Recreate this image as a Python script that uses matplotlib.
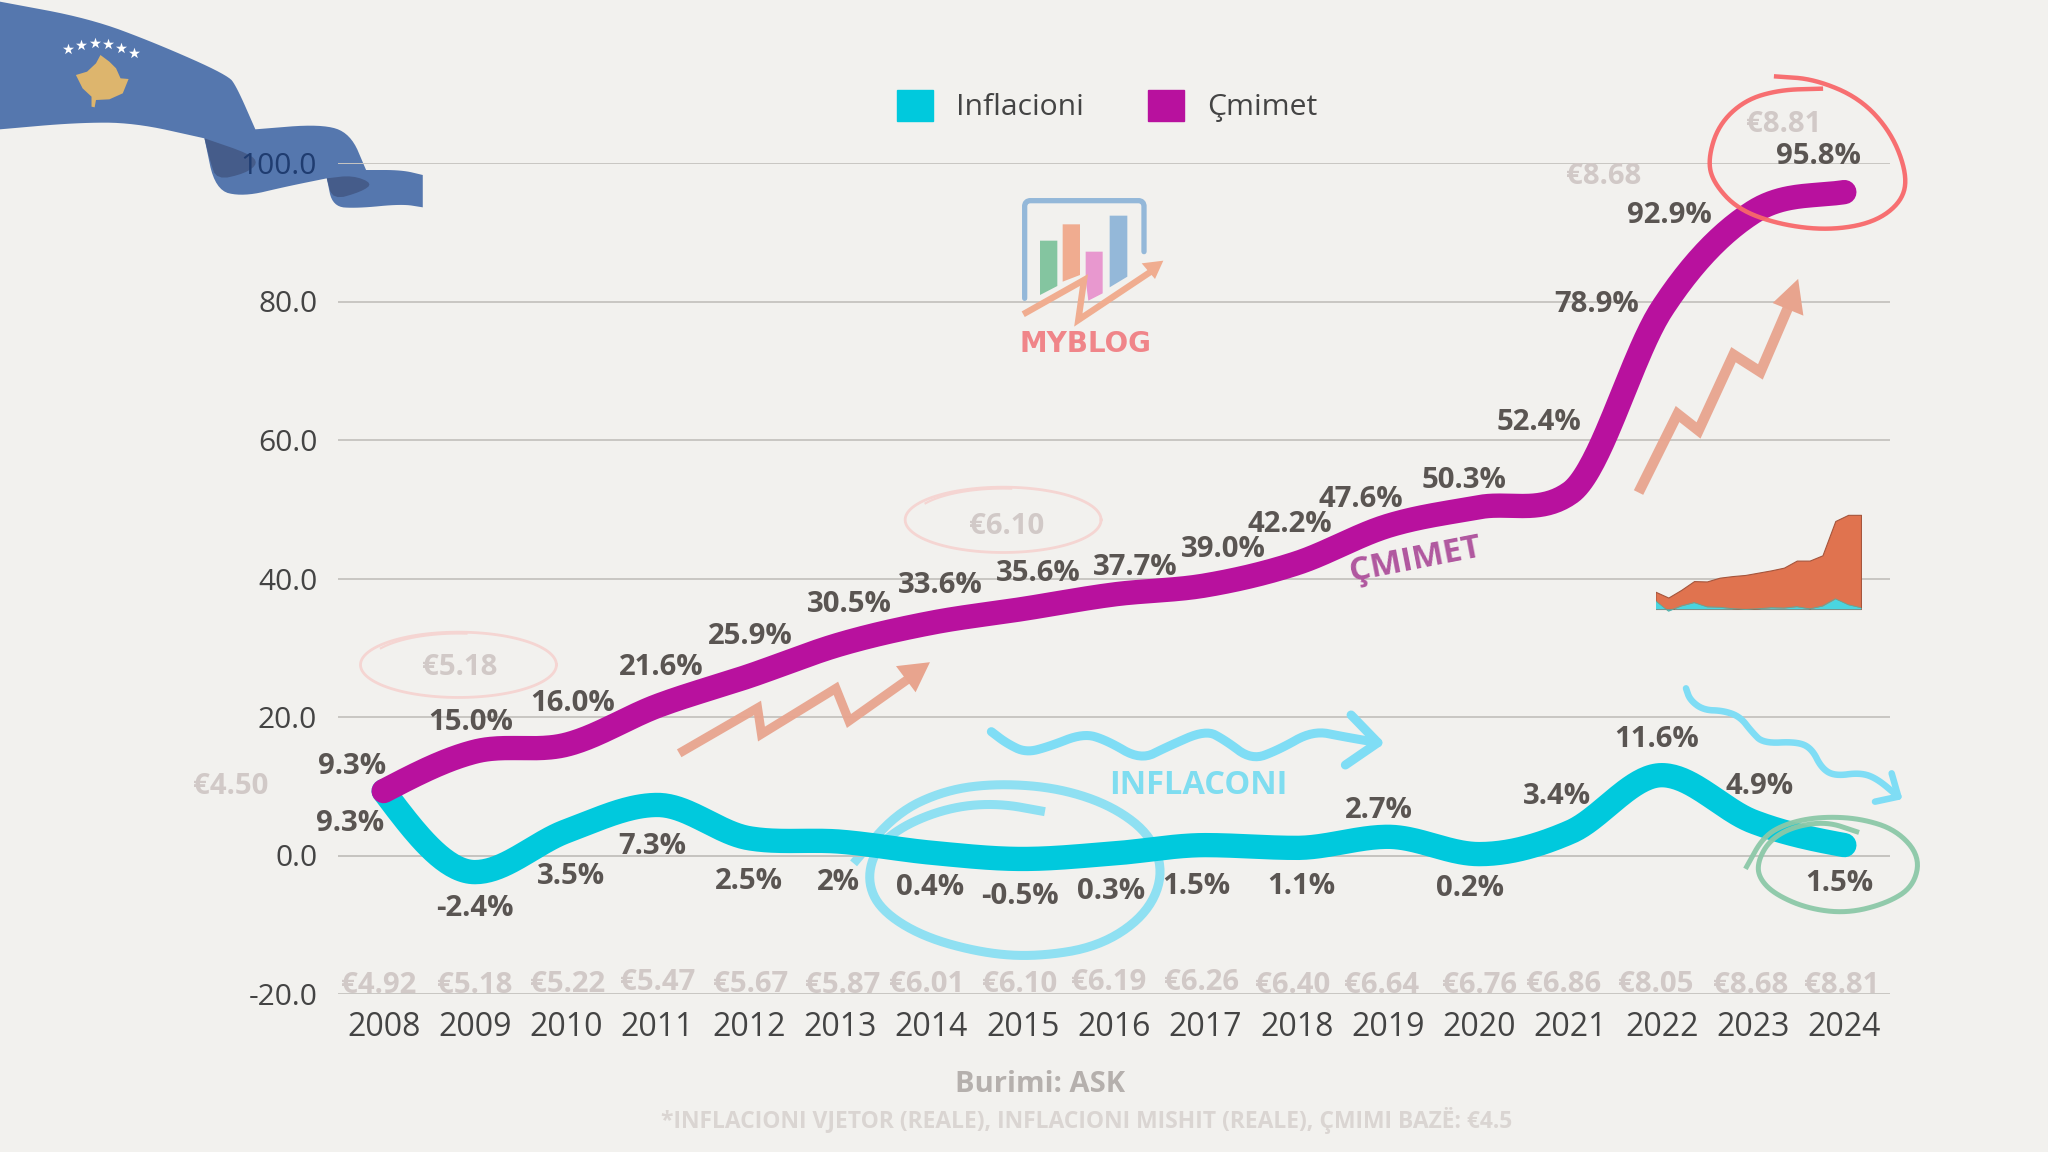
import numpy as np
import matplotlib
matplotlib.use("Agg")
import matplotlib.pyplot as plt
from matplotlib.patches import Patch, Polygon

# ---------- data ----------
years = [2008, 2009, 2010, 2011, 2012, 2013, 2014, 2015, 2016, 2017, 2018, 2019, 2020, 2021, 2022, 2023, 2024]
inflacioni = [9.3, -2.4, 3.5, 7.3, 2.5, 2.0, 0.4, -0.5, 0.3, 1.5, 1.1, 2.7, 0.2, 3.4, 11.6, 4.9, 1.5]
cmimet = [9.3, 15.0, 16.0, 21.6, 25.9, 30.5, 33.6, 35.6, 37.7, 39.0, 42.2, 47.6, 50.3, 52.4, 78.9, 92.9, 95.8]
inflacioni_labels = ["9.3%", "-2.4%", "3.5%", "7.3%", "2.5%", "2%", "0.4%", "-0.5%", "0.3%", "1.5%", "1.1%", "2.7%", "0.2%", "3.4%", "11.6%", "4.9%", "1.5%"]
cmimet_labels = ["9.3%", "15.0%", "16.0%", "21.6%", "25.9%", "30.5%", "33.6%", "35.6%", "37.7%", "39.0%", "42.2%", "47.6%", "50.3%", "52.4%", "78.9%", "92.9%", "95.8%"]
prices = ["€4.92", "€5.18", "€5.22", "€5.47", "€5.67", "€5.87", "€6.01", "€6.10", "€6.19", "€6.26", "€6.40", "€6.64", "€6.76", "€6.86", "€8.05", "€8.68", "€8.81"]
mini_orange = [19.6, 13, 21.7, 31.7, 31.3, 35.6, 37.4, 38.7, 41.3, 43.9, 47, 55, 55, 61, 100, 107, 107]
y_ticks = [-20, 0, 20, 40, 60, 80, 100]

# ---------- style ----------
BG = "#F2F1EE"
CYAN = "#00C9DD"
MAGENTA = "#B8119E"
DARK = "#5A5552"
PALE = "#D1C9C7"
TICK = "#444444"
FONT = "Open Sans"
S = 2048 / 1568  # offsets below were measured on a 1568-wide view
YSHIFT = -2.5

cm_off = [(-24, 21), (-3, 25), (5, 34), (3, 32), (1.5, 33), (7, 33), (7, 31), (12, 30), (16, 23), (14, 30),
          (-5, 32), (-21, 23), (-12, 23), (-24, 56), (-50, 6), (-64, 0), (-20, 30)]
inf_off = [(-26, -22), (0, -25), (4, -32), (-4, -29), (0, -31), (-1, -29), (-1, -24), (-2, -26), (-2, -27), (-7, -29),
           (4, -27), (-7, 23), (-7, -24), (-10, 30), (-4, 30), (5, 29), (-4, -27)]
price_off = [(-4, 9), (0, 9), (1, 10), (0, 11), (1, 10), (2, 9), (-4, 10), (-2, 10), (-4, 11), (-3, 11),
             (-3, 9), (-5, 9), (0, 9), (-5, 10), (-5, 10), (-2, 9), (-2, 9)]


def smooth_line(x, y, limit=4.5, n=40):
    x, y = np.asarray(x, float), np.asarray(y, float)
    h = np.diff(x)
    s = np.diff(y) / h
    t = np.zeros_like(y)
    for i in range(1, len(y) - 1):
        if s[i - 1] * s[i] > 0:
            cr = (y[i + 1] - y[i - 1]) / (x[i + 1] - x[i - 1])
            t[i] = np.sign(cr) * min(abs(cr), limit * min(abs(s[i - 1]), abs(s[i])))
    t[0] = (3 * s[0] - t[1]) / 2
    t[-1] = s[-1] * 0.7
    xs, ys = [], []
    for i in range(len(h)):
        u = np.linspace(0, 1, n, endpoint=False)
        xs.append(x[i] + u * h[i])
        ys.append((2 * u**3 - 3 * u**2 + 1) * y[i] + (u**3 - 2 * u**2 + u) * h[i] * t[i]
                  + (-2 * u**3 + 3 * u**2) * y[i + 1] + (u**3 - u**2) * h[i] * t[i + 1])
    return np.r_[np.concatenate(xs), x[-1]], np.r_[np.concatenate(ys), y[-1]]


def chaikin(pts, k=3):
    p = np.asarray(pts, float)
    for _ in range(k):
        a, b = p[:-1], p[1:]
        m = np.column_stack([0.75 * a + 0.25 * b, 0.25 * a + 0.75 * b]).reshape(-1, 2)
        p = np.vstack([p[0], m, p[-1]])
    return p


fig = plt.figure(figsize=(20.48, 11.52), dpi=100, facecolor=BG)


def overlay(z):
    o = fig.add_axes([0, 0, 1, 1], zorder=z)
    o.set_xlim(0, 2048)
    o.set_ylim(1152, 0)
    o.axis("off")
    o.patch.set_alpha(0)
    return o


under = overlay(0)
top = overlay(5)

# ---------- main chart ----------
ax = fig.add_axes([338 / 2048, (1152 - 994) / 1152, 1552 / 2048, 831 / 1152], zorder=2)
ax.patch.set_alpha(0)
ax.set_xlim(-0.5, 16.5)
ax.set_ylim(-20, 100)
ax.set_yticks(y_ticks)
ax.set_yticklabels([f"{v:.1f}" for v in y_ticks], family=FONT, fontsize=21.5, color=TICK)
ax.set_xticks(range(len(years)))
ax.set_xticklabels(years, family=FONT, fontsize=23, color=TICK)
ax.tick_params(length=0)
ax.tick_params(axis="y", pad=15)
ax.tick_params(axis="x", pad=12.5)
ax.get_yticklabels()[-1].set_color("#1F3C70")
for sp in ax.spines.values():
    sp.set_visible(False)
ax.grid(axis="y", color="#C8C6C2", lw=1.4, zorder=0)
ax.axhline(0, color="#8F8D8A", lw=1.3, zorder=1)
idx = np.arange(len(years))
ax.plot(*smooth_line(idx, inflacioni), color=CYAN, lw=17.5, solid_capstyle="round", zorder=3, label="Inflacioni")
ax.plot(*smooth_line(idx, cmimet), color=MAGENTA, lw=17.5, solid_capstyle="round", zorder=4, label="Çmimet")


def lab(i, v, txt, off, color, **kw):
    ax.annotate(txt, (i, v), xytext=(off[0] * S, (off[1] + YSHIFT) * S), textcoords="offset pixels", ha="center", va="center",
                family=FONT, fontweight="bold", color=color, annotation_clip=False, zorder=6, **kw)


for i in idx:
    lab(i, cmimet[i], cmimet_labels[i], cm_off[i], DARK, fontsize=21.2)
    lab(i, inflacioni[i], inflacioni_labels[i], inf_off[i], DARK, fontsize=21.2)
    lab(i, -20, prices[i], price_off[i], PALE, fontsize=21.2)

ax.legend(handles=[Patch(color=CYAN, label="Inflacioni"), Patch(color=MAGENTA, label="Çmimet")],
          loc="center", bbox_to_anchor=(1107 / 2048, 1 - 106 / 1152), bbox_transform=fig.transFigure,
          ncol=2, frameon=False, prop={"family": FONT, "size": 21.7}, handlelength=1.2, handleheight=1.2,
          handletextpad=0.75, columnspacing=2.15, labelcolor=TICK)

# free-floating price notes
for txt, x, y in [("€4.50", 177, 602), ("€8.68", 1228, 135), ("€8.81", 1366, 95), ("€6.10", 771, 403), ("€5.18", 352, 511)]:
    top.text(x * S, y * S, txt, ha="center", va="center", family=FONT, fontweight="bold", fontsize=21.2, color=PALE)

# bottom texts
top.text(1040, 1084, "Burimi: ASK", ha="center", va="center", family=FONT, fontweight="bold", fontsize=21, color="#B5B0AD")
top.text(1087, 1121, "*INFLACIONI VJETOR (REALE), INFLACIONI MISHIT (REALE), ÇMIMI BAZË: €4.5", ha="center", va="center",
         family=FONT, fontweight="bold", fontsize=16.5, color="#DAD5D2")
top.text(1198, 785, "INFLACONI", ha="center", va="center", family=FONT, fontweight="bold", fontsize=23.5, color="#7FDDF0")
top.text(1415, 560, "ÇMIMET", ha="center", va="center", rotation=11, family=FONT, fontweight="bold", fontsize=24, color="#B0579F")

# ---------- flag ----------
z1 = lambda pts: [(x / 2.24, y / 3) for x, y in pts]
runs = [[(0, 5), (200, 55), (350, 130), (510, 225), (530, 260), (572, 388)],
        [(572, 388), (720, 372), (785, 400), (820, 510)],
        [(820, 510), (900, 510), (947, 525)],
        [(947, 525), (947, 622)],
        [(947, 622), (900, 612), (800, 625), (745, 620), (732, 535)],
        [(732, 535), (640, 560), (545, 590), (482, 570), (458, 415)],
        [(458, 415), (300, 368), (170, 368), (0, 388)]]
outline = np.vstack([chaikin(z1(r)) for r in runs])
under.add_patch(Polygon(outline, closed=True, fc="#5577AE", ec="none", zorder=1))
under.add_patch(Polygon(chaikin(z1([(458, 415), (560, 462), (578, 490), (550, 520), (485, 540), (470, 480), (458, 415)]), 2), fc="#455C8A", ec="none", zorder=2))
under.add_patch(Polygon(chaikin(z1([(732, 535), (790, 526), (835, 550), (810, 575), (745, 600), (732, 535)]), 2), fc="#455C8A", ec="none", zorder=2))
under.add_patch(Polygon(z1([(225, 165), (245, 185), (260, 205), (270, 235), (288, 237), (275, 280), (245, 298), (215, 300), (212, 322),
                            (205, 320), (205, 290), (185, 265), (170, 225), (195, 215), (215, 190)]), fc="#DDB56D", ec="none", zorder=3))
st = np.array(z1([(153, 147), (182, 134), (213, 130), (243, 133), (272, 143), (301, 158)]))
under.scatter(st[:, 0], st[:, 1], marker="*", s=70, c="white", linewidths=0, zorder=3)

# ---------- logo ----------
z4 = lambda pts: [(950 + x / 3, 180 + y / 3) for x, y in pts]
fr = chaikin(z4([(224, 355), (224, 100), (224, 62), (262, 62), (545, 62), (582, 62), (582, 100), (582, 215)]), 2)
top.plot(fr[:, 0], fr[:, 1], color="#94B8D9", lw=3.8, solid_capstyle="round")
for pts, c in [([(270, 182), (322, 182), (322, 318), (270, 345)], "#84C5A0"),
               ([(338, 133), (390, 133), (390, 285), (338, 305)], "#F0AC90"),
               ([(407, 215), (458, 215), (458, 340), (415, 362), (407, 300)], "#E898CF"),
               ([(479, 107), (532, 107), (532, 290), (479, 322)], "#94B8D9")]:
    top.add_patch(Polygon(z4(pts), fc=c, ec="none"))
ar = np.array(z4([(228, 398), (402, 300), (385, 420), (610, 270)]))
top.plot(ar[:, 0], ar[:, 1], color="#F0AD90", lw=4.6, solid_joinstyle="miter")
top.add_patch(Polygon(z4([(640, 242), (575, 250), (615, 297)]), fc="#F0AD90", ec="none"))
top.text(1085, 344, "MYBLOG", ha="center", va="center", family="DejaVu Sans", fontweight="bold", fontsize=20, color="#F08589")

# ---------- decorative arrows ----------
D = lambda pts: np.array(pts, float) * S
a1 = D([(523, 575), (580, 542), (583, 562), (640, 527), (650, 552), (698, 518)])
top.plot(a1[:, 0], a1[:, 1], color="#E8A48E", lw=6.5, solid_joinstyle="miter", alpha=0.95)
top.add_patch(Polygon(D([(712, 507), (686, 510), (701, 530)]), fc="#E8A48E", ec="none"))
z2 = lambda pts: np.array([(1500 + x / 2.861, 60 + y / 2.613) for x, y in pts])
a2 = z2([(403, 1118), (508, 925), (568, 968), (668, 770), (745, 815), (825, 645)])
top.plot(a2[:, 0], a2[:, 1], color="#E8A48E", lw=7.5, solid_joinstyle="miter", alpha=0.95)
top.add_patch(Polygon(z2([(853, 572), (780, 635), (868, 668)]), fc="#E8A48E", ec="none"))

z3 = lambda pts: np.array([(800 + x / 2.613, 700 + y / 3) for x, y in pts])
w = chaikin(z3([(500, 95), (540, 130), (590, 158), (650, 140), (740, 100), (800, 120), (890, 180), (960, 140), (1060, 90), (1110, 120),
                (1180, 180), (1250, 150), (1340, 92), (1420, 110), (1510, 128)]))
top.plot(w[:, 0], w[:, 1], color="#7FDDF5", lw=6.5, solid_capstyle="round")
h = z3([(1440, 45), (1510, 128), (1425, 195)])
top.plot(h[:, 0], h[:, 1], color="#7FDDF5", lw=6.5, solid_capstyle="round", solid_joinstyle="round")
z5 = lambda pts: np.array([(1680 + x / 3, 660 + y / 3) for x, y in pts])
w2 = chaikin(z5([(18, 85), (30, 120), (70, 150), (130, 152), (180, 170), (215, 215), (250, 250), (350, 245), (395, 265), (425, 325),
                 (465, 348), (540, 338), (590, 355), (655, 410)]))
top.plot(w2[:, 0], w2[:, 1], color="#7FDDF5", lw=4.7, solid_capstyle="round")
h2 = z5([(635, 340), (655, 410), (585, 425)])
top.plot(h2[:, 0], h2[:, 1], color="#7FDDF5", lw=4.7, solid_capstyle="round")

# ---------- hand-drawn circles ----------
e = chaikin(z3([(640, 335), (520, 310), (400, 320), (280, 370), (200, 440), (175, 540), (210, 630), (320, 710), (480, 760), (620, 770),
                (780, 740), (900, 650), (950, 530), (920, 410), (820, 320), (680, 265), (520, 250), (380, 270), (250, 340), (140, 490)]))
under.plot(e[:, 0], e[:, 1], color="#8FE0F2", lw=6.5, solid_capstyle="butt")
r = chaikin(z2([(790, 43), (900, 50), (1030, 100), (1120, 190), (1165, 300), (1150, 370), (1070, 425), (940, 445), (800, 430), (680, 390),
                (610, 320), (595, 260), (625, 170), (700, 105), (800, 78), (918, 75)]))
top.plot(r[:, 0], r[:, 1], color="#F8686A", lw=3.2, alpha=0.95)
g = chaikin(z5([(200, 620), (250, 530), (320, 490), (420, 470), (540, 475), (650, 510), (720, 590), (700, 680), (620, 730), (500, 760),
                (380, 745), (280, 700), (235, 650), (235, 600), (270, 540), (340, 500), (440, 485), (530, 515)]))
top.plot(g[:, 0], g[:, 1], color="#8CC8A8", lw=3.6, alpha=0.95)
tt = np.linspace(0, 2 * np.pi, 120)
for cx, cy in [(768, 398), (351, 509)]:
    top.plot((cx + 75 * np.cos(tt)) * S, (cy + 25 * np.sin(tt)) * S, color="#F5D5D2", lw=2)
    ta = np.linspace(3.7, 4.8, 30)
    top.plot((cx + 70 * np.cos(ta)) * S, (cy + 24 * np.sin(ta)) * S, color="#F5D5D2", lw=1.6)

# ---------- mini area thumbnail ----------
ins = fig.add_axes([1655.5 / 2048, (1152 - 625) / 1152, 205.5 / 2048, 112 / 1152], zorder=3)
ins.axis("off")
ins.patch.set_alpha(0)
ins.set_xlim(0, 16)
ins.set_ylim(-16 / 0.88, 96 / 0.88)
ins.fill_between(idx, 0, mini_orange, color="#E0734F", lw=0.8, edgecolor="#A5553C")
ins.fill_between(idx, 0, inflacioni, color="#4AD5E0", lw=0)
ins.plot(idx, inflacioni, color="#5FA79A", lw=0.6)

fig.savefig("out.png", dpi=100, facecolor=BG)
